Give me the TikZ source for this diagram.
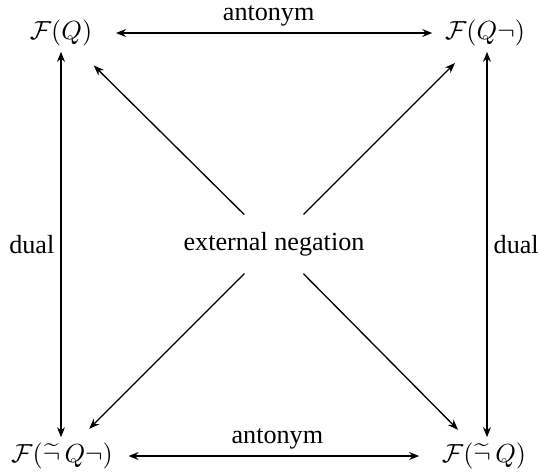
\documentclass[tikz,border=0pt]{standalone}
\usepackage[no-math]{fontspec}
\setmainfont{Liberation Serif}
\usepackage{amsmath}
\usetikzlibrary{arrows.meta}

\begin{document}
\begin{tikzpicture}[
    x=0.01344cm, y=-0.01344cm,
    corner/.style={inner sep=2pt},
    dbl/.style={{Stealth[length=3.8pt,width=3pt]}-{Stealth[length=3.8pt,width=3pt]}, line width=1.1pt},
    neg/.style={-{Stealth[length=4pt,width=3pt]}, semithin, shorten <=16pt},
    lbl/.style={inner sep=2pt},
    semithin/.style={line width=0.5pt}
  ]
    \useasboundingbox (0,0) rectangle (539,473);
    % the four corners
    \node[corner] (fq) at (61,33) {$\mathcal{F}(Q)$};
    \node[corner] (fqn) at (485,33) {$\mathcal{F}(Q\neg)$};
    \node[corner] (ftqn) at (62,456) {$\mathcal{F}(\widetilde{\neg}\,Q\neg)$};
    \node[corner] (ftq) at (484,456) {$\mathcal{F}(\widetilde{\neg}\,Q)$};
    \node (ext) at (274,244) {external negation};
    % antonym and dual
    \draw[dbl, shorten <=6.9pt, shorten >=2.7pt] (fq) -- node[lbl, above] {antonym} (fqn);
    \draw[dbl, shorten <=3.8pt, shorten >=6.5pt] (ftqn) -- node[lbl, above] {antonym} (ftq);
    \draw[dbl] (fq) -- node[lbl, left] {dual} (fq |- ftqn.north);
    \draw[dbl] (fqn.south -| 487,0) -- node[lbl, right] {dual} (ftq.north -| 487,0);
    % external negation
    \draw[neg, shorten >=7.4pt] (ext.center) -- (fq);
    \draw[neg, shorten >=6pt] (ext.center) -- (fqn);
    \draw[neg, shorten >=4.5pt] (ext.center) -- (ftqn);
    \draw[neg, shorten >=4pt] (ext.center) -- (ftq);
\end{tikzpicture}
\end{document}
